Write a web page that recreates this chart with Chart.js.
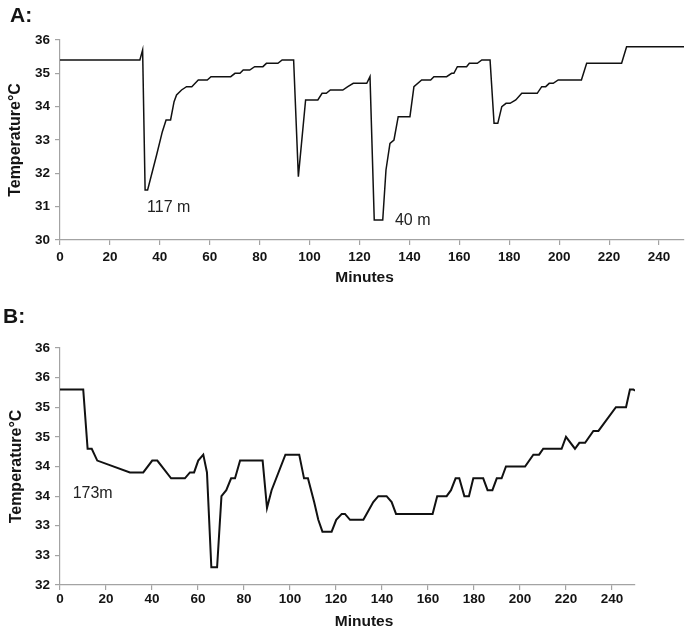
<!DOCTYPE html>
<html>
<head>
<meta charset="utf-8">
<script src="https://cdn.jsdelivr.net/npm/chart.js@4/dist/chart.umd.min.js"></script>
<style>
  html, body { margin: 0; padding: 0; background: #fff; }
  #wrap { position: relative; width: 685px; height: 631px; overflow: hidden; }
  canvas { position: absolute; left: 0; }
  #cA { top: 0; }
  #cB { top: 290px; }
</style>
</head>
<body>
<div id="wrap">
  <canvas id="cA" width="685" height="290"></canvas>
  <canvas id="cB" width="685" height="341"></canvas>
</div>
<script>
// ---------- DATA ----------
const minutesA = [0, 32, 33.1, 34.1, 35.1, 38.7, 41, 42.5, 44.3, 45.7, 46.7, 48.7, 50.7, 52.8, 55.4, 59.0,
  60.5, 68.4, 70.1, 72.1, 73.4, 76, 78, 81.3, 82.7, 87.3, 89, 93.6, 95.5, 98.4, 103.3, 105, 106.7,
  108.3, 113.3, 115.3, 117.5, 122.9, 124.2, 125.9, 129.3, 130.6, 132.2, 133.8, 135.5, 140.2, 141.8,
  144.9, 148.5, 149.8, 154.9, 156.9, 157.8, 159.2, 162.9, 164, 167.2, 169, 172.3, 173.9, 175.4,
  177, 178.7, 180.3, 182.6, 185, 191.2, 193, 194.6, 196, 197.6, 199.6, 208.9, 211, 225, 227, 250];
const tempA = [35.4, 35.4, 35.7, 31.5, 31.5, 32.55, 33.25, 33.6, 33.6, 34.15, 34.35, 34.5, 34.6, 34.6, 34.8, 34.8,
  34.9, 34.9, 35.0, 35.0, 35.1, 35.1, 35.2, 35.2, 35.3, 35.3, 35.4, 35.4, 31.9, 34.2, 34.2, 34.4, 34.4,
  34.5, 34.5, 34.6, 34.7, 34.7, 34.9, 30.6, 30.6, 32.1, 32.9, 33.0, 33.7, 33.7, 34.6,
  34.8, 34.8, 34.9, 34.9, 35.0, 35.0, 35.2, 35.2, 35.3, 35.3, 35.4, 35.4, 33.5, 33.5,
  34.0, 34.1, 34.1, 34.2, 34.4, 34.4, 34.6, 34.6, 34.7, 34.7, 34.8, 34.8, 35.3, 35.3, 35.8, 35.8];

const minutesB = [0, 10.1, 12.0, 13.8, 16.2, 30.4, 36.2, 40.1, 42.3, 48.3, 54.3, 56.5, 58.3, 60.1, 62.3,
  63.9, 65.8, 68.3, 70.2, 72.3, 74.4, 76.1, 78.3, 88.1, 90.0, 92.0, 98.0, 104.0, 106.1, 107.8,
  110.5, 112.3, 114.1, 118.1, 120.1, 122.5, 123.9, 126.1, 131.9, 133.3, 136.2, 138.4, 142.0,
  144.2, 146.1, 162.0, 164.0, 168.1, 170.0, 172.0, 173.6, 175.8, 177.8, 179.7, 184.0, 185.9,
  188.0, 189.9, 192.0, 193.9, 202.2, 205.8, 208.3, 210.1, 218.1, 220.0, 223.9, 225.8, 228.3,
  231.9, 234.1, 241.7, 246.1, 247.8, 249.3, 250];
const tempB = [35.3, 35.3, 34.3, 34.3, 34.1, 33.9, 33.9, 34.1, 34.1, 33.8, 33.8, 33.9, 33.9, 34.1, 34.2,
  33.9, 32.3, 32.3, 33.5, 33.6, 33.8, 33.8, 34.1, 34.1, 33.3, 33.6, 34.2, 34.2, 33.8, 33.8,
  33.4, 33.1, 32.9, 32.9, 33.1, 33.2, 33.2, 33.1, 33.1, 33.2, 33.4, 33.5, 33.5,
  33.4, 33.2, 33.2, 33.5, 33.5, 33.6, 33.8, 33.8, 33.5, 33.5, 33.8, 33.8, 33.6,
  33.6, 33.8, 33.8, 34.0, 34.0, 34.2, 34.2, 34.3, 34.3, 34.5, 34.3, 34.4, 34.4,
  34.6, 34.6, 35.0, 35.0, 35.3, 35.3, 35.28];

const xTickLabels = ['0', '20', '40', '60', '80', '100', '120', '140', '160', '180', '200', '220', '240'];
const yTickLabelsA = ['30', '31', '32', '33', '34', '35', '36'];
const yTickLabelsB = ['32', '33', '33', '34', '34', '35', '35', '36', '36'];

const notesA = [{ text: '117 m', x: 34.9, y: 30.96 }, { text: '40 m', x: 134.2, y: 30.57 }];
const notesB = [{ text: '173m', x: 5.5, y: 33.54 }];

// ---------- STYLE / BUILD ----------
const FONT = '"Liberation Sans", Arial, Helvetica, sans-serif';
const AXIS_GRAY = '#a3a3a3';
const TEXT = '#141414';

function pts(xs, ys) { return xs.map((x, i) => ({ x: x, y: ys[i] })); }

function makeTextPlugin(cfg) {
  return {
    id: 'panelText',
    afterDraw(chart) {
      const ctx = chart.ctx;
      const sx = chart.scales.x, sy = chart.scales.y;
      ctx.save();
      ctx.fillStyle = TEXT;
      ctx.textAlign = 'left';
      ctx.textBaseline = 'alphabetic';
      ctx.font = 'bold 21px ' + FONT;
      ctx.fillText(cfg.label, cfg.labelX, cfg.labelY);
      ctx.font = 'bold 15.5px ' + FONT;
      ctx.textAlign = 'center';
      ctx.textBaseline = 'middle';
      ctx.fillText('Minutes', cfg.xTitleX, chart.chartArea.bottom + cfg.xTitleDy);
      ctx.font = '16px ' + FONT;
      ctx.textAlign = 'left';
      ctx.fillStyle = '#222';
      cfg.notes.forEach(n => ctx.fillText(n.text, sx.getPixelForValue(n.x), sy.getPixelForValue(n.y)));
      ctx.restore();
    }
  };
}

function makeChart(id, data, lineW, yMin, yMax, yStep, yLabels, pad, xH, xTickPad, yTitlePad, textCfg) {
  return new Chart(document.getElementById(id), {
    type: 'line',
    data: {
      datasets: [{
        data: data,
        borderColor: '#111',
        borderWidth: lineW,
        pointRadius: 0,
        tension: 0,
        fill: false
      }]
    },
    options: {
      responsive: false,
      animation: false,
      devicePixelRatio: 1,
      layout: { padding: pad },
      plugins: { legend: { display: false }, tooltip: { enabled: false } },
      scales: {
        x: {
          type: 'linear',
          min: 0, max: 250,
          afterFit: s => { s.height = xH; },
          border: { color: AXIS_GRAY, width: 1.2 },
          grid: { drawOnChartArea: false, color: AXIS_GRAY, tickLength: 5, lineWidth: 1.2 },
          ticks: {
            stepSize: 20, includeBounds: false, padding: xTickPad, color: TEXT, maxRotation: 0,
            font: { family: FONT, size: 13.5, weight: 'bold' },
            callback: (v) => xTickLabels[Math.round(v / 20)]
          },
          title: { display: false }
        },
        y: {
          min: yMin, max: yMax,
          afterFit: s => { s.width = 60; },
          border: { color: AXIS_GRAY, width: 1.2 },
          grid: { drawOnChartArea: false, color: AXIS_GRAY, tickLength: 5, lineWidth: 1.2 },
          ticks: {
            stepSize: yStep, padding: 5, color: TEXT,
            font: { family: FONT, size: 13.5, weight: 'bold' },
            callback: (v) => yLabels[Math.round((v - yMin) / yStep)]
          },
          title: {
            display: true, text: 'Temperature°C', color: TEXT,
            font: { family: FONT, size: 16, weight: 'bold' },
            padding: { top: yTitlePad, bottom: 0 }
          }
        }
      }
    },
    plugins: [makeTextPlugin(textCfg)]
  });
}

makeChart('cA', pts(minutesA, tempA), 1.5, 30, 36, 1, yTickLabelsA,
  { top: 40, left: 0, right: 1, bottom: 0 }, 50, 4, 5.5,
  { label: 'A:', labelX: 10, labelY: 22, xTitleX: 364.5, xTitleDy: 37.5, notes: notesA });

makeChart('cB', pts(minutesB, tempB), 2, 32, 36, 0.5, yTickLabelsB,
  { top: 58, left: 0, right: 50, bottom: 0 }, 46, 1.5, 6.5,
  { label: 'B:', labelX: 3, labelY: 33, xTitleX: 364, xTitleDy: 36.5, notes: notesB });
</script>
</body>
</html>
